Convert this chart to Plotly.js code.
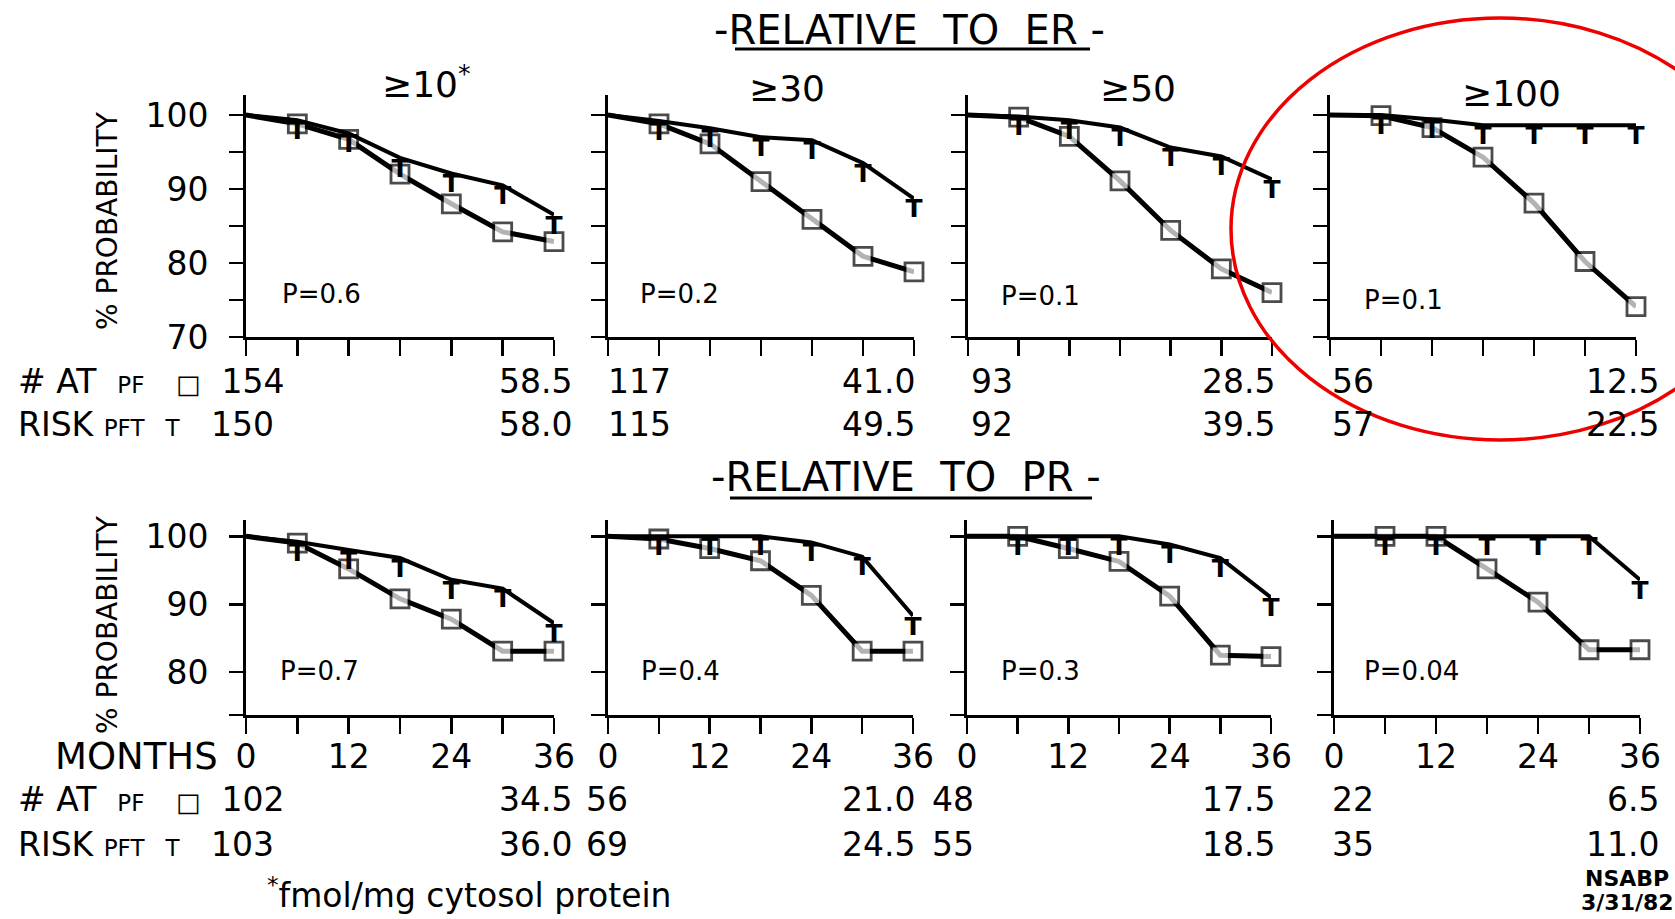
<!DOCTYPE html>
<html>
<head>
<meta charset="utf-8">
<script src="https://cdn.plot.ly/plotly-3.0.1.min.js"></script>
<style>
  html, body { margin: 0; padding: 0; background: #fff; }
  #chart { width: 1675px; height: 919px; }
</style>
</head>
<body>
<div id="chart"></div>
<script>
// Survival time points (months) and labelled x ticks
const months = [0, 6, 12, 18, 24, 30, 36];
const monthLabels = [0, 12, 24, 36];
const thresholds = ['≥10', '≥30', '≥50', '≥100'];

// % probability, receptor level relative to ER
const er10PF  = [100, 98.8, 96.7, 92.0, 88.0, 84.2, 82.9];
const er10PFT = [100, 99.3, 97.5, 94.2, 92.1, 90.5, 86.5];
const er30PF  = [100, 98.8, 96.1, 91.0, 85.9, 80.9, 78.8];
const er30PFT = [100, 99.2, 98.2, 97.0, 96.6, 93.5, 88.7];
const er50PF  = [100, 99.7, 97.1, 91.1, 84.4, 79.2, 76.0];
const er50PFT = [100, 99.8, 99.3, 98.3, 95.6, 94.4, 91.3];
const er100PF  = [100, 99.9, 98.3, 94.3, 88.1, 80.2, 74.1];
const er100PFT = [100, 100, 99.4, 98.6, 98.6, 98.6, 98.6];

// % probability, receptor level relative to PR
const pr10PF  = [100, 99.0, 95.2, 90.8, 87.8, 83.1, 83.1];
const pr10PFT = [100, 99.2, 98.0, 96.8, 93.6, 92.3, 87.2];
const pr30PF  = [100, 99.6, 98.2, 96.4, 91.3, 83.1, 83.1];
const pr30PFT = [100, 100, 100, 100, 99.1, 97.0, 88.3];
const pr50PF  = [100, 100, 98.2, 96.3, 91.2, 82.5, 82.3];
const pr50PFT = [100, 100, 100, 100, 98.8, 96.8, 91.0];
const pr100PF  = [100, 100, 100, 95.2, 90.3, 83.3, 83.3];
const pr100PFT = [100, 100, 100, 100, 100, 100, 93.6];

// P values
const erP = ['0.6', '0.2', '0.1', '0.1'];
const prP = ['0.7', '0.4', '0.3', '0.04'];

// Number at risk at start and at 36 months
const erRiskPFStart  = ['154', '117', '93', '56'];
const erRiskPFEnd    = ['58.5', '41.0', '28.5', '12.5'];
const erRiskPFTStart = ['150', '115', '92', '57'];
const erRiskPFTEnd   = ['58.0', '49.5', '39.5', '22.5'];
const prRiskPFStart  = ['102', '56', '48', '22'];
const prRiskPFEnd    = ['34.5', '21.0', '17.5', '6.5'];
const prRiskPFTStart = ['103', '69', '55', '35'];
const prRiskPFTEnd   = ['36.0', '24.5', '18.5', '11.0'];

// ---- page geometry (pixels) ----
const W = 1675, H = 919;
const FONT = 'DejaVu Sans, Liberation Sans, sans-serif';
const px = x => x / W;
const py = y => 1 - y / H;

const topCols = [[246, 554], [608, 914], [968, 1272], [1330, 1636]];
const botCols = [[246, 554], [608, 913], [967, 1271], [1334, 1640]];
const topRow = { top: 95, bottom: 337, range: [70, 102.7],
  major: [70, 80, 90, 100], minor: { tickmode: 'linear', tick0: 70, dtick: 5 } };
const botRow = { top: 520, bottom: 715, range: [73.7, 102.4],
  major: [80, 90, 100], minor: { tickmode: 'array', tickvals: [73.7] } };

const panels = [
  { pf: er10PF,  pft: er10PFT,  row: topRow, col: topCols[0], xlab: false, ylab: true },
  { pf: er30PF,  pft: er30PFT,  row: topRow, col: topCols[1], xlab: false, ylab: false },
  { pf: er50PF,  pft: er50PFT,  row: topRow, col: topCols[2], xlab: false, ylab: false },
  { pf: er100PF, pft: er100PFT, row: topRow, col: topCols[3], xlab: false, ylab: false },
  { pf: pr10PF,  pft: pr10PFT,  row: botRow, col: botCols[0], xlab: true, ylab: true },
  { pf: pr30PF,  pft: pr30PFT,  row: botRow, col: botCols[1], xlab: true, ylab: false },
  { pf: pr50PF,  pft: pr50PFT,  row: botRow, col: botCols[2], xlab: true, ylab: false },
  { pf: pr100PF, pft: pr100PFT, row: botRow, col: botCols[3], xlab: true, ylab: false }
];

const data = [];
const layout = {
  width: W, height: H,
  margin: { l: 0, r: 0, t: 0, b: 0 },
  paper_bgcolor: '#fff', plot_bgcolor: 'rgba(0,0,0,0)',
  showlegend: false,
  font: { family: FONT, color: '#000' },
  annotations: [], shapes: []
};

const tickStyle = { ticks: 'outside', tickwidth: 2.5, tickcolor: '#000', showgrid: false };

panels.forEach((p, i) => {
  const n = i + 1;
  const sfx = n === 1 ? '' : String(n);
  const xa = 'x' + sfx, ya = 'y' + sfx;
  layout['xaxis' + sfx] = Object.assign({
    domain: [px(p.col[0]), px(p.col[1])], range: [0, 36], anchor: ya,
    zeroline: false, showline: true, linecolor: '#000', linewidth: 3,
    ticklen: 16, tickmode: 'array', tickvals: monthLabels,
    showticklabels: p.xlab, tickfont: { size: 33, family: FONT }, ticklabelstandoff: -6,
    minor: Object.assign({ tickmode: 'linear', tick0: 0, dtick: 6, ticklen: 16 }, tickStyle),
    fixedrange: true
  }, tickStyle);
  layout['yaxis' + sfx] = Object.assign({
    domain: [py(p.row.bottom), py(p.row.top)], range: p.row.range, anchor: xa,
    zeroline: false, showline: true, linecolor: '#000', linewidth: 3,
    ticklen: 14, tickmode: 'array', tickvals: p.row.major,
    showticklabels: p.ylab, tickfont: { size: 33, family: FONT }, ticklabelstandoff: 14,
    minor: Object.assign({ ticklen: 14 }, p.row.minor, tickStyle),
    fixedrange: true
  }, tickStyle);
  // PF curve with open squares
  data.push({
    type: 'scatter', mode: 'lines+markers', x: months, y: p.pf, xaxis: xa, yaxis: ya,
    line: { color: '#000', width: 5 },
    marker: { symbol: 'square', size: months.map(m => m === 0 ? 0 : 18), color: '#fff',
              line: { color: '#000', width: 2.8 } },
    cliponaxis: false, hoverinfo: 'skip'
  });
  // PFT curve with "T" marks hanging from each point (crossbar on the curve)
  data.push({
    type: 'scatter', mode: 'lines+text', x: months, y: p.pft, xaxis: xa, yaxis: ya,
    line: { color: '#000', width: 4 },
    marker: { size: 0 },
    text: months.map(m => m === 0 ? '' : 'T'), textposition: 'bottom center',
    textfont: { size: 25, color: '#000', family: FONT, weight: 'bold' },
    cliponaxis: false, hoverinfo: 'skip'
  });
});

function ann(text, x, y, size, opts) {
  layout.annotations.push(Object.assign({
    text: text, xref: 'paper', yref: 'paper', x: px(x), y: py(y),
    xanchor: 'center', yanchor: 'middle', showarrow: false,
    font: { size: size, family: FONT, color: '#000' }
  }, opts || {}));
}
const small = (s, sz) => '<span style="font-size:' + (sz || 23) + 'px">' + s + '</span>';
const nb = '\u00a0';
const pfLabel = '#' + nb + 'AT' + nb + nb + small('PF') + nb + nb + nb + small('□', 26) + nb + nb;
const pftLabel = 'RISK' + nb + small('PFT') + nb + nb + small('T') + nb + nb + nb;

// Group headings with underlines
ann('-RELATIVE' + nb + nb + 'TO' + nb + nb + 'ER' + nb + '-', 910, 30, 40);
ann('-RELATIVE' + nb + nb + 'TO' + nb + nb + 'PR' + nb + '-', 906, 477, 40);
layout.shapes.push({ type: 'line', xref: 'paper', yref: 'paper',
  x0: px(735), x1: px(1090), y0: py(49), y1: py(49), line: { color: '#000', width: 3 } });
layout.shapes.push({ type: 'line', xref: 'paper', yref: 'paper',
  x0: px(730), x1: px(1092), y0: py(498), y1: py(498), line: { color: '#000', width: 3 } });

// Threshold titles over the ER panels
const thrPos = [[427, 82], [787, 88], [1138, 88], [1511, 94]];
thresholds.forEach((t, i) => {
  ann(t + (i === 0 ? '<sup>*</sup>' : ''), thrPos[i][0], thrPos[i][1], 36);
});

// P values
const pTopX = [280, 638, 999, 1362], pBotX = [278, 639, 999, 1362];
erP.forEach((v, i) => ann('P=' + v, pTopX[i], [294, 294, 296, 300][i], 26, { xanchor: 'left' }));
prP.forEach((v, i) => ann('P=' + v, pBotX[i], 671, 26, { xanchor: 'left' }));

// Y axis titles
ann('%' + nb + 'PROBABILITY', 107, 221, 28, { textangle: -90 });
ann('%' + nb + 'PROBABILITY', 107, 625, 28, { textangle: -90 });

// Number at risk, ER
const topStartX = [null, 606, 969, 1330], endX = [574, 917, 1277, 1661];
ann(pfLabel + erRiskPFStart[0], 16, 381, 33, { xanchor: 'left' });
ann(pftLabel + erRiskPFTStart[0], 16, 424, 33, { xanchor: 'left' });
for (let i = 0; i < 4; i++) {
  if (i > 0) {
    ann(erRiskPFStart[i], topStartX[i], 381, 33, { xanchor: 'left' });
    ann(erRiskPFTStart[i], topStartX[i], 424, 33, { xanchor: 'left' });
  }
  ann(erRiskPFEnd[i], endX[i], 381, 33, { xanchor: 'right' });
  ann(erRiskPFTEnd[i], endX[i], 424, 33, { xanchor: 'right' });
}

// Number at risk, PR
const botStartX = [null, 584, 930, 1330];
ann('MONTHS', 53, 756, 37, { xanchor: 'left' });
ann(pfLabel + prRiskPFStart[0], 16, 799, 33, { xanchor: 'left' });
ann(pftLabel + prRiskPFTStart[0], 16, 844, 33, { xanchor: 'left' });
for (let i = 0; i < 4; i++) {
  if (i > 0) {
    ann(prRiskPFStart[i], botStartX[i], 799, 33, { xanchor: 'left' });
    ann(prRiskPFTStart[i], botStartX[i], 844, 33, { xanchor: 'left' });
  }
  ann(prRiskPFEnd[i], endX[i], 799, 33, { xanchor: 'right' });
  ann(prRiskPFTEnd[i], endX[i], 844, 33, { xanchor: 'right' });
}

// Footnote and source stamp
ann('<sup>*</sup>fmol/mg' + nb + 'cytosol' + nb + 'protein', 265, 893, 33, { xanchor: 'left' });
ann('<b>NSABP</b>', 1627, 878, 22);
ann('<b>3/31/82</b>', 1627, 902, 22);

// Red highlight ring around the ER ≥100 panel
layout.shapes.push({ type: 'circle', xref: 'paper', yref: 'paper',
  x0: px(1231), x1: px(1769), y0: py(440), y1: py(18),
  line: { color: '#ee0000', width: 3.5 } });

Plotly.newPlot('chart', data, layout, { staticPlot: true, displayModeBar: false });
</script>
</body>
</html>
